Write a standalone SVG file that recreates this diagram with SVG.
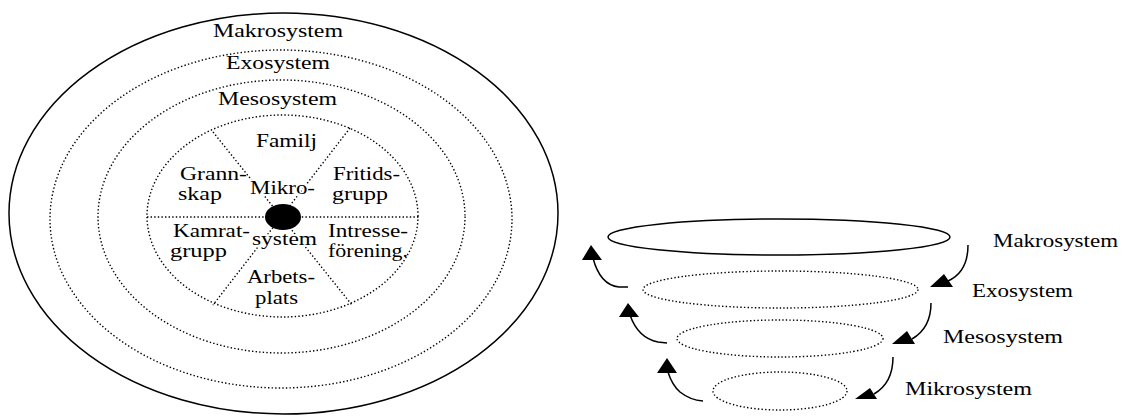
<svg xmlns="http://www.w3.org/2000/svg" width="1124" height="417" viewBox="0 0 1124 417">
<style>
  .solid { fill: none; stroke: #000; stroke-width: 1.5; }
  .dot { fill: none; stroke: #000; stroke-width: 1.4; stroke-dasharray: 1.4 2.2; }
  .t { font-family: "Liberation Serif", "Times New Roman", serif; font-size: 18px; fill: #000; }
  .halo { stroke: #fff; stroke-width: 3; paint-order: stroke; }
  .arr { fill: none; stroke: #000; stroke-width: 1.5; }
  .head { fill: #000; }
</style>
<rect width="1124" height="417" fill="#fff"/>

<g id="left-diagram">
  <g id="makro-ring">
    <ellipse class="solid" cx="283.5" cy="213.5" rx="274.5" ry="200.5"/>
    <text class="t" x="213" y="37" textLength="130" lengthAdjust="spacingAndGlyphs">Makrosystem</text>
  </g>
  <g id="exo-ring">
    <ellipse class="dot" cx="281" cy="219" rx="231" ry="169"/>
    <text class="t" x="226" y="69" textLength="104" lengthAdjust="spacingAndGlyphs">Exosystem</text>
  </g>
  <g id="meso-ring">
    <ellipse class="dot" cx="281.5" cy="216.5" rx="183.5" ry="136.5"/>
    <text class="t" x="218" y="105" textLength="119" lengthAdjust="spacingAndGlyphs">Mesosystem</text>
  </g>
  <g id="mikro-ring">
    <ellipse class="dot" cx="282.5" cy="216" rx="135.5" ry="101"/>
    <line class="dot" x1="147" y1="217" x2="418" y2="217"/>
    <line class="dot" x1="213" y1="132" x2="352" y2="305"/>
    <line class="dot" x1="350" y1="128" x2="213" y2="305"/>
    <ellipse cx="283" cy="217" rx="18" ry="13" fill="#000"/>
  </g>
  <g id="mikro-label">
    <text class="t halo" x="250" y="194" textLength="65" lengthAdjust="spacingAndGlyphs">Mikro-</text>
    <text class="t halo" x="252" y="245" textLength="65" lengthAdjust="spacingAndGlyphs">system</text>
  </g>
  <g id="sector-familj"><text class="t" x="256" y="147" textLength="61" lengthAdjust="spacingAndGlyphs">Familj</text></g>
  <g id="sector-grannskap">
    <text class="t" x="180" y="180" textLength="67" lengthAdjust="spacingAndGlyphs">Grann-</text>
    <text class="t" x="178" y="200" textLength="44" lengthAdjust="spacingAndGlyphs">skap</text>
  </g>
  <g id="sector-fritidsgrupp">
    <text class="t" x="333" y="180" textLength="67" lengthAdjust="spacingAndGlyphs">Fritids-</text>
    <text class="t" x="332" y="200" textLength="56" lengthAdjust="spacingAndGlyphs">grupp</text>
  </g>
  <g id="sector-kamratgrupp">
    <text class="t" x="173" y="237" textLength="77" lengthAdjust="spacingAndGlyphs">Kamrat-</text>
    <text class="t" x="170" y="257" textLength="57" lengthAdjust="spacingAndGlyphs">grupp</text>
  </g>
  <g id="sector-intresseforening">
    <text class="t" x="328" y="237" textLength="80" lengthAdjust="spacingAndGlyphs">Intresse-</text>
    <text class="t" x="328" y="257" textLength="80" lengthAdjust="spacingAndGlyphs">förening.</text>
  </g>
  <g id="sector-arbetsplats">
    <text class="t" x="247" y="283" textLength="68" lengthAdjust="spacingAndGlyphs">Arbets-</text>
    <text class="t" x="255" y="304" textLength="43" lengthAdjust="spacingAndGlyphs">plats</text>
  </g>
</g>

<g id="right-diagram">
  <g id="level-makro"><ellipse class="solid" cx="779" cy="237" rx="171" ry="18"/></g>
  <g id="level-exo"><ellipse class="dot" cx="780.5" cy="289.5" rx="137.5" ry="18.5"/></g>
  <g id="level-meso"><ellipse class="dot" cx="780" cy="338.5" rx="103" ry="18.5"/></g>
  <g id="level-mikro"><ellipse class="dot" cx="780" cy="391" rx="67" ry="19"/></g>
  <g id="label-makro"><text class="t" x="993" y="247" textLength="125" lengthAdjust="spacingAndGlyphs">Makrosystem</text></g>
  <g id="label-exo"><text class="t" x="972" y="297" textLength="101" lengthAdjust="spacingAndGlyphs">Exosystem</text></g>
  <g id="label-meso"><text class="t" x="943" y="343" textLength="120" lengthAdjust="spacingAndGlyphs">Mesosystem</text></g>
  <g id="label-mikro"><text class="t" x="905" y="395" textLength="127" lengthAdjust="spacingAndGlyphs">Mikrosystem</text></g>
</g>

<g id="connectors">
  <path class="arr" d="M628,287 L619,287 Q600,285 593,258"/>
  <polygon class="head" points="591,245 582,260 602,260"/>
  <path class="arr" d="M667,343 L658,342 Q638,338 630,315"/>
  <polygon class="head" points="628,303 619,317 639,317"/>
  <path class="arr" d="M703,401 Q690,400 680,392 Q672,385 668,372"/>
  <polygon class="head" points="667,358 657,373 677,373"/>

  <path class="arr" d="M968,245 Q968,272 948,281"/>
  <polygon class="head" points="944,274 930,287 953,287"/>
  <path class="arr" d="M931,303 Q931,328 912,339"/>
  <polygon class="head" points="907,331 892,344 915,344"/>
  <path class="arr" d="M893,357 Q893,383 874,394"/>
  <polygon class="head" points="870,388 855,399 877,399"/>
</g>
</svg>
